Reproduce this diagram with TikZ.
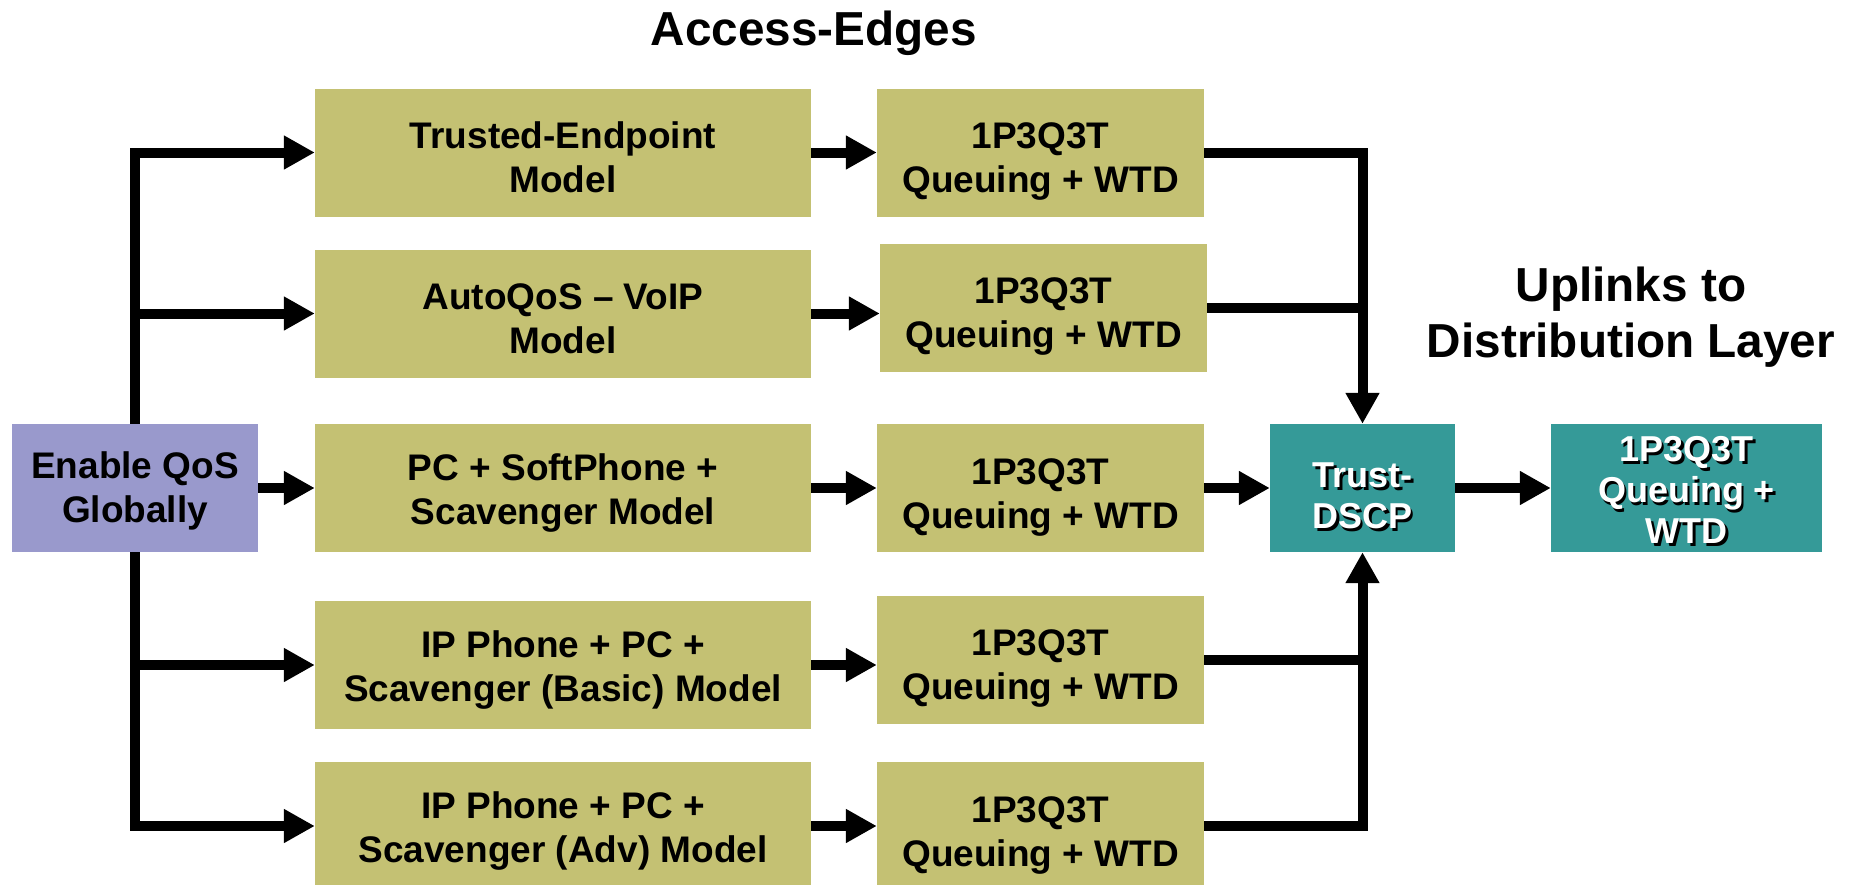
\documentclass[tikz,border=0pt]{standalone}
\usepackage{fontspec}
\setmainfont{Liberation Sans}
\usetikzlibrary{arrows.meta}

\definecolor{olivebox}{RGB}{196,193,115}
\definecolor{lavbox}{RGB}{153,153,204}
\definecolor{tealbox}{RGB}{53,154,152}

\begin{document}
\begin{tikzpicture}[x=1pt,y=-1pt,
  boxtext/.style={align=center, inner sep=0pt,
    font=\bfseries\fontsize{37}{44}\selectfont},
  box/.style={rectangle, inner sep=0pt, minimum height=128},
  modelbox/.style={box, fill=olivebox, minimum width=496,
    label={[boxtext, yshift=-5]center:#1}},
  queuebox/.style={box, fill=olivebox, minimum width=327,
    label={[boxtext, yshift=-9]center:{1P3Q3T\\Queuing + WTD}}},
  startbox/.style={box, fill=lavbox, minimum width=246,
    label={[boxtext, yshift=-3]center:#1}},
  upbox/.style={box, fill=tealbox},
  whitetxt/.style={align=center, inner sep=0pt, text=white,
    font=\bfseries\fontsize{36}{41}\selectfont},
  shadetxt/.style={whitetxt, text=black},
  heading/.style={align=center, inner sep=0pt,
    font=\bfseries\fontsize{47.7}{56}\selectfont},
  conn/.style={line width=10pt, draw=black,
    -{Triangle[length=31pt,width=32pt]}},
  plain/.style={line width=10pt, draw=black}
]
\useasboundingbox (0,0) rectangle (1864,884);

% headings
\node[heading, anchor=base] (access) at (814,45) {Access-Edges};
\node[heading] (uplinks) at (1631,317) {Uplinks to\\Distribution Layer};

% starting box
\node[startbox={{Enable QoS\\Globally}}] (enable) at (135,488) {};

% classification / trust models
\node[modelbox={{Trusted-Endpoint\\Model}}] (m1) at (563,152.5) {};
\node[modelbox={{AutoQoS -- VoIP\\Model}}] (m2) at (563,313.5) {};
\node[modelbox={{PC + SoftPhone +\\Scavenger Model}}] (m3) at (563,488) {};
\node[modelbox={{IP Phone + PC +\\Scavenger (Basic) Model}}] (m4) at (563,665) {};
\node[modelbox={{IP Phone + PC +\\Scavenger (Adv) Model}}] (m5) at (563,826) {};

% access-edge queuing
\node[queuebox] (q1) at (1040.5,152.5) {};
\node[queuebox] (q2) at (1043.5,307.5) {};
\node[queuebox] (q3) at (1040.5,488)   {};
\node[queuebox] (q4) at (1040.5,659.5) {};
\node[queuebox] (q5) at (1040.5,826)   {};

% uplink boxes with shadowed white labels
\node[upbox, minimum width=185] (trust) at (1362.5,488) {};
\node[shadetxt] (trustsh) at ([shift={(2.5,10.5)}]trust.center) {Trust-\\DSCP};
\node[whitetxt] (trusttx) at ([shift={(0,8)}]trust.center) {Trust-\\DSCP};

\node[upbox, minimum width=271] (final) at (1686.5,488) {};
\node[shadetxt] (finalsh) at ([shift={(2.5,4.5)}]final.center) {1P3Q3T\\Queuing +\\WTD};
\node[whitetxt] (finaltx) at ([shift={(0,2)}]final.center) {1P3Q3T\\Queuing +\\WTD};

% fan-out from the global setting
\draw[conn] (enable.north) |- (m1.west);
\draw[conn] (enable.north) |- (m2.west);
\draw[conn] (enable.east) -- (m3.west);
\draw[conn] (enable.south) |- (m4.west);
\draw[conn] (enable.south) |- (m5.west);

% models to queuing
\foreach \i in {1,...,5}{
  \draw[conn] (m\i.east) -- (m\i.east -| q\i.west);
}

% queuing to trust
\draw[conn] (q1.east) -| (trust.north);
\draw[plain] (q2.east) -- (q2.east -| trust.north);
\draw[conn] (q3.east) -- (trust.west);
\draw[conn] (q5.east) -| (trust.south);
\draw[plain] (q4.east) -- (q4.east -| trust.south);

% trust to uplink queuing
\draw[conn] (trust.east) -- (final.west);
\end{tikzpicture}
\end{document}
